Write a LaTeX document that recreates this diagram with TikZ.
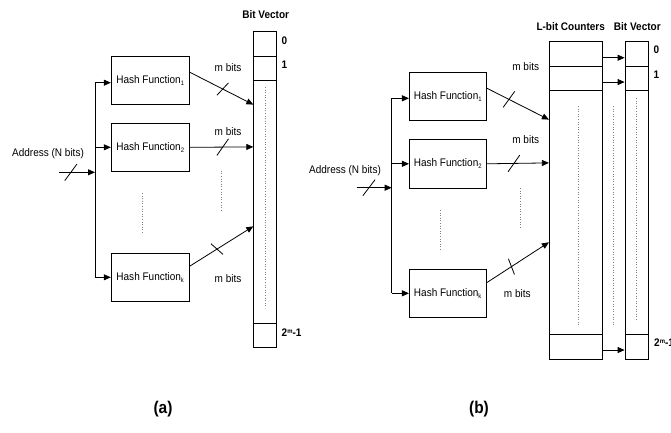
\documentclass[tikz,border=0pt]{standalone}
\usepackage{fontspec}
\setmainfont{Liberation Sans}[FakeStretch=0.91]
\usetikzlibrary{arrows.meta,calc}
\newcommand\lblfont{\fontsize{11}{12}\selectfont}
\newcommand\subtxt[1]{\raisebox{-2.2pt}{\fontsize{6.5}{7}\selectfont #1}}
\newcommand\suptxt[1]{\raisebox{3.2pt}{\fontsize{6.5}{7}\selectfont #1}}
\begin{document}
\begin{tikzpicture}[x=1pt,y=-1pt,
  box/.style={draw,line width=0.8pt,minimum width=78pt,minimum height=48.5pt,inner sep=0pt,font=\lblfont},
  cell/.style={draw,line width=0.8pt,inner sep=0pt},
  arr/.style={line width=0.8pt,-{Triangle[length=7pt,width=6pt]}},
  wire/.style={line width=0.8pt},
  dots/.style={dotted,gray,line width=0.6pt},
  lbl/.style={font=\lblfont,inner sep=0pt},
  hdr/.style={font=\lblfont\bfseries,inner sep=0pt},
  captxt/.style={font=\fontsize{17}{18}\selectfont\bfseries,inner sep=0pt},
  slash/.style={line width=0.8pt}]
\useasboundingbox (0,0) rectangle (671,432);

% ================= (a) =================
\node[box] (ha1) at (150.2,80.5) {Hash Function\subtxt{1}};
\node[box] (ha2) at (150.2,147.3) {Hash Function\subtxt{2}};
\node[box] (hak) at (150.2,277.5) {Hash Function\subtxt{k}};

\node[cell,minimum width=22.6pt,minimum height=24.7pt] (a0) at (265,43.65) {};
\node[cell,minimum width=22.6pt,minimum height=24.3pt] (a1) at (265,68.15) {};
\node[cell,minimum width=22.6pt,minimum height=243pt] (am) at (265,201.8) {};
\node[cell,minimum width=22.6pt,minimum height=24.4pt] (al) at (265,335.5) {};

\node[hdr] (bva) at (265.7,15) {Bit Vector};
\node[hdr,anchor=west] (za) at (281.5,40.7) {0};
\node[hdr,anchor=west] (oa) at (281.5,64.7) {1};
\node[hdr,anchor=west] (la) at (281.5,332.5) {2\suptxt{m}-1};
\node[lbl] (ada) at (48,154) {Address (N bits)};
\node[lbl] (ma1) at (228,67.5) {m bits};
\node[lbl] (ma2) at (228,132) {m bits};
\node[lbl] (mak) at (228,278.7) {m bits};
\node[captxt] (capa) at (163,409) {(a)};

\coordinate (busA1) at (95,82.7);
\coordinate (busA2) at (95,277.3);
\coordinate (inA) at (59,172.3);
\draw[wire] (busA1) -- (busA2);
\draw[arr] (busA1) -- (busA1 -| ha1.west);
\draw[arr] (ha2.west -| busA1) -- (ha2.west);
\draw[arr] (busA2) -- (busA2 -| hak.west);
\draw[arr] (inA) -- coordinate[pos=0.33] (sa0) (inA -| busA1);
\draw[slash] ($(sa0)+(-6.1,8.3)$) -- ($(sa0)+(6.1,-8.3)$);

\draw[arr] ($(ha1.north east)+(0,16.3)$) -- coordinate[pos=0.52] (sa1) ($(am.north west)+(0,24.7)$);
\draw[slash] ($(sa1)+(-5.8,6.2)$) -- ($(sa1)+(5.8,-6.2)$);
\draw[arr] (ha2.east) -- coordinate[pos=0.52] (sa2) ($(am.north west)+(0,67)$);
\draw[slash] ($(sa2)+(-5.8,8.3)$) -- ($(sa2)+(5.8,-8.3)$);
\draw[arr] ($(hak.north east)+(0,13.4)$) -- coordinate[pos=0.43] (sak) ($(am.north west)+(0,146.4)$);
\draw[slash] ($(sak)+(-6,-5.3)$) -- ($(sak)+(6,5.3)$);

\draw[dots] (142.7,193) -- (142.7,233);
\draw[dots] (221.7,170.7) -- (221.7,210.7);
\draw[dots] (265,87) -- (265,308);

% ================= (b) =================
\node[box,minimum width=76.7pt] (hb1) at (447.7,96.35) {Hash Function\subtxt{1}};
\node[box,minimum width=76.7pt] (hb2) at (447.7,163.8) {Hash Function\subtxt{2}};
\node[box,minimum width=76.7pt] (hbk) at (447.7,293.5) {Hash Function\subtxt{k}};

\node[cell,minimum width=52.7pt,minimum height=24.3pt] (c0) at (575.65,53.85) {};
\node[cell,minimum width=52.7pt,minimum height=24.3pt] (c1) at (575.65,78.15) {};
\node[cell,minimum width=52.7pt,minimum height=244pt] (cm) at (575.65,212.3) {};
\node[cell,minimum width=52.7pt,minimum height=24.7pt] (cl) at (575.65,346.65) {};

\node[cell,minimum width=23.3pt,minimum height=24.3pt] (v0) at (636.65,53.85) {};
\node[cell,minimum width=23.3pt,minimum height=24.3pt] (v1) at (636.65,78.15) {};
\node[cell,minimum width=23.3pt,minimum height=244pt] (vm) at (636.65,212.3) {};
\node[cell,minimum width=23.3pt,minimum height=24.7pt] (vl) at (636.65,346.65) {};

\draw[arr] ([yshift=-3.9pt]c0.east) -- ([yshift=-3.9pt]v0.west);
\draw[arr] ([yshift=-3.9pt]c1.east) -- ([yshift=-3.9pt]v1.west);
\draw[arr] ([yshift=-3.4pt]cl.east) -- ([yshift=-3.4pt]vl.west);

\node[hdr] (lbc) at (570.7,26.7) {L-bit Counters};
\node[hdr] (bvb) at (637.3,26.7) {Bit Vector};
\node[hdr,anchor=west] (zb) at (653.5,50) {0};
\node[hdr,anchor=west] (ob) at (653.5,75) {1};
\node[hdr,anchor=west] (lb) at (654,343) {2\suptxt{m}-1};
\node[lbl] (adb) at (345,170.7) {Address (N bits)};
\node[lbl] (mb1) at (525.7,66.7) {m bits};
\node[lbl] (mb2) at (525.7,140) {m bits};
\node[lbl] (mbk) at (517.3,294) {m bits};
\node[captxt] (capb) at (479,409) {(b)};

\coordinate (busB1) at (391.7,98.3);
\coordinate (busB2) at (391.7,293.3);
\coordinate (inB) at (356.7,187.7);
\draw[wire] (busB1) -- (busB2);
\draw[arr] (busB1) -- (busB1 -| hb1.west);
\draw[arr] (hb2.west -| busB1) -- (hb2.west);
\draw[arr] (busB2) -- (busB2 -| hbk.west);
\draw[arr] (inB) -- coordinate[pos=0.35] (sb0) (inB -| busB1);
\draw[slash] ($(sb0)+(-6.1,8)$) -- ($(sb0)+(6.1,-8)$);

\draw[arr] ($(hb1.north east)+(0,16.3)$) -- coordinate[pos=0.36] (sb1) ($(cm.north west)+(0,29.7)$);
\draw[slash] ($(sb1)+(-5.8,8)$) -- ($(sb1)+(5.8,-8)$);
\draw[arr] (hb2.east) -- coordinate[pos=0.44] (sb2) ($(cm.north west)+(0,73)$);
\draw[slash] ($(sb2)+(-5.8,8.3)$) -- ($(sb2)+(5.8,-8.3)$);
\draw[arr] ($(hbk.north east)+(0,14)$) -- coordinate[pos=0.4] (sbk) ($(cm.north west)+(0,152.4)$);
\draw[slash] ($(sbk)+(-3,-7.8)$) -- ($(sbk)+(3,7.8)$);

\draw[dots] (440,210) -- (440,250);
\draw[dots] (520,188) -- (520,228.3);
\draw[dots] (578.7,106) -- (578.7,326.7);
\draw[dots] (613.3,106) -- (613.3,326.7);
\draw[dots] (636.7,98) -- (636.7,320);
\end{tikzpicture}
\end{document}
